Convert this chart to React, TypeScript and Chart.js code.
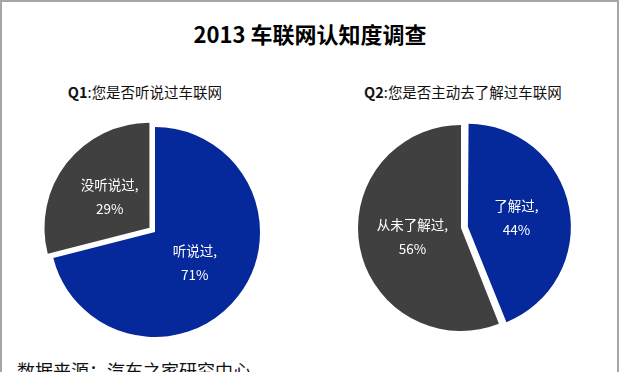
import React, { useEffect, useRef } from "react";
import { Chart, registerables } from "chart.js";

Chart.register(...registerables);

// ---- data ----
const chartTitle = "2013 车联网认知度调查";
const q1Tag = "Q1";
const q1Question = "您是否听说过车联网";
const q1Labels = ["听说过", "没听说过"];
const q1Values = [71, 29];
const q2Tag = "Q2";
const q2Question = "您是否主动去了解过车联网";
const q2Labels = ["了解过", "从未了解过"];
const q2Values = [44, 56];
const sourceNote = "数据来源：汽车之家研究中心";

const sliceColors = ["#05289b", "#404040"];
const FONT = '"Noto Sans CJK SC", "Noto Sans", sans-serif';

// keeps exploded slices at the same radius as the others (Excel style)
const keepRadiusPlugin = {
  id: "keepRadius",
  beforeDatasetsDraw(chart: any) {
    const meta = chart.getDatasetMeta(0);
    meta.data.forEach((arc: any) => {
      const off = (arc.options.offset || 0) / 4;
      if (!off) return;
      const circ = arc.endAngle - arc.startAngle;
      const fix = 1 - Math.sin(Math.min(Math.PI, circ));
      if (arc._baseR === undefined) arc._baseR = arc.outerRadius;
      arc.outerRadius = arc._baseR - off * fix;
    });
  },
};

const sliceLabelPlugin = {
  id: "sliceLabels",
  afterDatasetsDraw(chart: any) {
    const ctx = chart.ctx;
    const meta = chart.getDatasetMeta(0);
    const labels = chart.data.labels as string[];
    const values = chart.data.datasets[0].data as number[];
    const total = values.reduce((a: number, b: number) => a + b, 0);
    ctx.save();
    ctx.fillStyle = "#ffffff";
    ctx.font = `13.5px ${FONT}`;
    ctx.textAlign = "center";
    ctx.textBaseline = "middle";
    meta.data.forEach((arc: any, i: number) => {
      const { x, y, startAngle, endAngle } = arc;
      const baseR = arc._baseR !== undefined ? arc._baseR : arc.outerRadius;
      const mid = (startAngle + endAngle) / 2;
      const shift = (arc.options.offset || 0) / 4;
      const r = baseR * 0.48 + shift;
      const cx = x + Math.cos(mid) * r;
      const cy = y + Math.sin(mid) * r;
      const pct = Math.round((values[i] / total) * 100);
      ctx.fillText(labels[i] + ",", cx, cy - 12);
      ctx.fillText(pct + "%", cx, cy + 12);
    });
    ctx.restore();
  },
};

type PieProps = {
  labels: string[];
  values: number[];
  explode: number[];
  radius: number;
  left: number;
  top: number;
};

function PieChart({ labels, values, explode, radius, left, top }: PieProps) {
  const ref = useRef<HTMLCanvasElement>(null);
  useEffect(() => {
    const chart = new Chart(ref.current as HTMLCanvasElement, {
      type: "pie",
      data: {
        labels,
        datasets: [
          {
            data: values,
            backgroundColor: sliceColors,
            borderWidth: 0,
            offset: explode.map((e) => e * 4),
            hoverOffset: 0,
          } as any,
        ],
      },
      options: {
        responsive: false,
        animation: false,
        events: [],
        radius,
        layout: { padding: 0 },
        plugins: {
          legend: { display: false },
          tooltip: { enabled: false },
          title: { display: false },
        },
      } as any,
      plugins: [keepRadiusPlugin, sliceLabelPlugin],
    });
    return () => chart.destroy();
  }, []);
  return (
    <canvas
      ref={ref}
      width={260}
      height={250}
      style={{ position: "absolute", left, top, width: 260, height: 250 }}
    />
  );
}

export default function App() {
  return (
    <div
      style={{
        position: "fixed",
        left: 0,
        top: 0,
        width: 620,
        height: 372,
        overflow: "hidden",
        background: "#ffffff",
        fontFamily: FONT,
      }}
    >
      <div
        style={{
          position: "absolute",
          left: 0,
          top: 0,
          width: 615,
          height: 380,
          borderLeft: "2px solid #a6a6a6",
          borderTop: "2px solid #a6a6a6",
          borderRight: "2px solid #a6a6a6",
        }}
      />
      <div
        style={{
          position: "absolute",
          left: 0,
          top: 18,
          width: 620,
          textAlign: "center",
          fontSize: 22,
          fontWeight: 700,
          lineHeight: "30px",
          color: "#000",
        }}
      >
        {chartTitle}
      </div>
      <div
        style={{
          position: "absolute",
          left: 45,
          top: 82,
          width: 200,
          textAlign: "center",
          fontSize: 14.5,
          lineHeight: "20px",
          color: "#111",
        }}
      >
        <span style={{ fontWeight: 700 }}>{q1Tag}</span>:{q1Question}
      </div>
      <div
        style={{
          position: "absolute",
          left: 363,
          top: 82,
          width: 200,
          textAlign: "center",
          fontSize: 14.5,
          lineHeight: "20px",
          color: "#111",
        }}
      >
        <span style={{ fontWeight: 700 }}>{q2Tag}</span>:{q2Question}
      </div>
      <PieChart labels={q1Labels} values={q1Values} explode={[0, 7]} radius={105} left={25} top={107} />
      <PieChart labels={q2Labels} values={q2Values} explode={[7, 0]} radius={103} left={331} top={103} />
      <div
        style={{
          position: "absolute",
          left: 17,
          top: 358,
          fontSize: 18,
          lineHeight: "24px",
          color: "#111",
          whiteSpace: "nowrap",
        }}
      >
        {sourceNote}
      </div>
    </div>
  );
}
